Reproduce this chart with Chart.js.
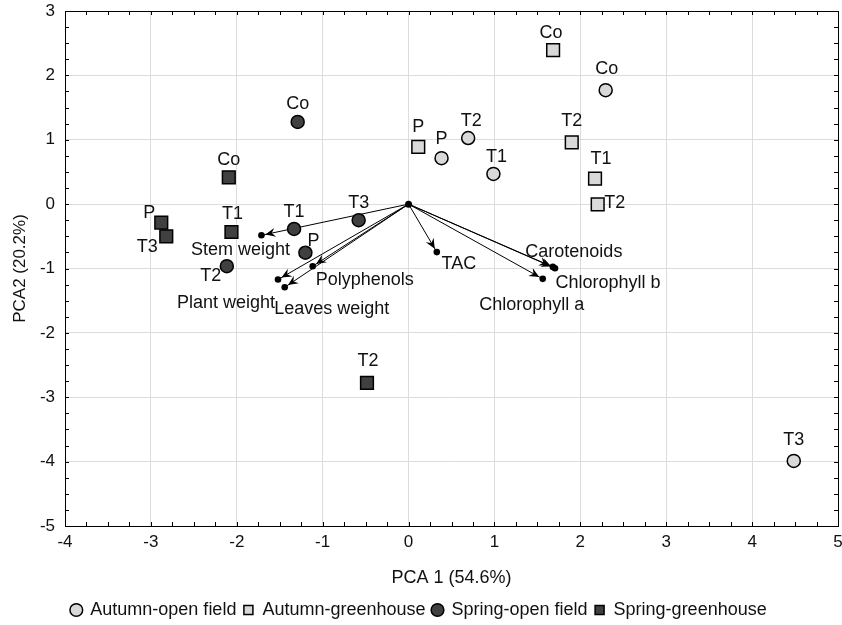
<!DOCTYPE html>
<html>
<head>
<meta charset="utf-8">
<script src="https://cdn.jsdelivr.net/npm/chart.js@4.4.0/dist/chart.umd.min.js"></script>
<style>
  html, body { margin: 0; padding: 0; background: #fff; }
</style>
</head>
<body>
<canvas id="pca" width="842" height="625"></canvas>
<script>
// scores, one set of arrays per group
const autumnOpenLabels = ['Co', 'P', 'T2', 'T1', 'T3'];
const autumnOpenX = [2.295, 0.384, 0.694, 0.988, 4.485];
const autumnOpenY = [1.770, 0.714, 1.027, 0.469, -3.989];

const autumnGreenLabels = ['Co', 'P', 'T2', 'T1', 'T2'];
const autumnGreenX = [1.683, 0.113, 1.900, 2.171, 2.202];
const autumnGreenY = [2.391, 0.891, 0.958, 0.395, -0.005];

const springOpenLabels = ['Co', 'T1', 'T3', 'P', 'T2'];
const springOpenX = [-1.291, -1.333, -0.581, -1.201, -2.116];
const springOpenY = [1.277, -0.386, -0.250, -0.755, -0.964];

const springGreenLabels = ['Co', 'T1', 'P', 'T3', 'T2'];
const springGreenX = [-2.093, -2.062, -2.879, -2.821, -0.484];
const springGreenY = [0.417, -0.433, -0.286, -0.500, -2.777];

// loadings (arrows from the origin)
const loadingNames = ['Stem weight', 'Plant weight', 'Leaves weight', 'Polyphenols', 'TAC', 'Carotenoids', 'Chlorophyll b', 'Chlorophyll a'];
const loadingX = [-1.713, -1.520, -1.442, -1.116, 0.329, 1.680, 1.705, 1.562];
const loadingY = [-0.484, -1.172, -1.292, -0.964, -0.745, -0.975, -0.995, -1.161];

const xTicks = [-4, -3, -2, -1, 0, 1, 2, 3, 4, 5];
const yTicks = [-5, -4, -3, -2, -1, 0, 1, 2, 3];

// label placement, pixels from the mark
const autumnOpenLabelPos = [[1, -21], [0, -19], [3, -17], [3, -17], [0, -21]];
const autumnGreenLabelPos = [[-2, -17], [0, -20], [0, -21], [6, -20], [17, -1]];
const springOpenLabelPos = [[0, -18], [0, -17], [0, -17], [8, -12], [-16, 10]];
const springGreenLabelPos = [[0, -17], [1, -18], [-12, -10], [-19, 11], [1, -22]];
const loadingLabelPos = [[-21, 15], [-52, 23], [47, 22], [52, 14], [22, 12], [21, -15], [53, 15], [-11, 26]];

const FONT = "'Liberation Sans', Arial, sans-serif";
const LIGHT = '#d9d9d9';
const DARK = '#404040';

const toPoints = (xs, ys) => xs.map((v, i) => ({ x: v, y: ys[i] }));

const groups = [
  { label: 'Autumn-open field', xs: autumnOpenX, ys: autumnOpenY, names: autumnOpenLabels, pos: autumnOpenLabelPos, style: 'circle', fill: LIGHT },
  { label: 'Autumn-greenhouse', xs: autumnGreenX, ys: autumnGreenY, names: autumnGreenLabels, pos: autumnGreenLabelPos, style: 'rect', fill: LIGHT },
  { label: 'Spring-open field', xs: springOpenX, ys: springOpenY, names: springOpenLabels, pos: springOpenLabelPos, style: 'circle', fill: DARK },
  { label: 'Spring-greenhouse', xs: springGreenX, ys: springGreenY, names: springGreenLabels, pos: springGreenLabelPos, style: 'rect', fill: DARK }
];

const arrowPlugin = {
  id: 'arrows',
  beforeDatasetsDraw(chart) {
    const { ctx, scales: { x, y } } = chart;
    const ox = x.getPixelForValue(0), oy = y.getPixelForValue(0);
    ctx.save();
    ctx.strokeStyle = '#000';
    ctx.fillStyle = '#000';
    ctx.lineWidth = 1;
    loadingNames.forEach((name, i) => {
      const ex = x.getPixelForValue(loadingX[i]);
      const ey = y.getPixelForValue(loadingY[i]);
      const ang = Math.atan2(ey - oy, ex - ox);
      const c = Math.cos(ang), s = Math.sin(ang);
      ctx.beginPath();
      ctx.moveTo(ox, oy);
      ctx.lineTo(ex, ey);
      ctx.stroke();
      // barbed arrow head just before the end dot
      const tx = ex - c * 4, ty = ey - s * 4;
      ctx.beginPath();
      ctx.moveTo(tx, ty);
      ctx.lineTo(tx - c * 10 - s * 4.5, ty - s * 10 + c * 4.5);
      ctx.lineTo(tx - c * 6.5, ty - s * 6.5);
      ctx.lineTo(tx - c * 10 + s * 4.5, ty - s * 10 - c * 4.5);
      ctx.closePath();
      ctx.fill();
      ctx.beginPath();
      ctx.arc(ex, ey, 3.3, 0, Math.PI * 2);
      ctx.fill();
    });
    ctx.beginPath();
    ctx.arc(ox, oy, 3.5, 0, Math.PI * 2);
    ctx.fill();
    ctx.restore();
  },
  afterDatasetsDraw(chart) {
    const { ctx, chartArea: a, scales: { x, y } } = chart;
    ctx.save();
    // frame and inner ticks
    ctx.strokeStyle = '#000';
    ctx.lineWidth = 1;
    ctx.strokeRect(Math.round(a.left) + 0.5, Math.round(a.top) + 0.5, Math.round(a.right - a.left), Math.round(a.bottom - a.top));
    ctx.beginPath();
    for (let v = x.min; v <= x.max + 1e-9; v += 0.25) {
      const px = Math.round(x.getPixelForValue(v)) + 0.5;
      ctx.moveTo(px, a.top); ctx.lineTo(px, a.top + 4);
      ctx.moveTo(px, a.bottom); ctx.lineTo(px, a.bottom - 4);
    }
    for (let v = y.min; v <= y.max + 1e-9; v += 0.25) {
      const py = Math.round(y.getPixelForValue(v)) + 0.5;
      ctx.moveTo(a.left, py); ctx.lineTo(a.left + 4, py);
      ctx.moveTo(a.right, py); ctx.lineTo(a.right - 4, py);
    }
    ctx.stroke();

    ctx.fillStyle = '#111';
    ctx.font = '18px ' + FONT;
    ctx.textAlign = 'center';
    ctx.textBaseline = 'middle';
    loadingNames.forEach((name, i) => {
      const ex = x.getPixelForValue(loadingX[i]);
      const ey = y.getPixelForValue(loadingY[i]);
      ctx.fillText(name, ex + loadingLabelPos[i][0], ey + loadingLabelPos[i][1]);
    });
    groups.forEach(g => {
      g.names.forEach((n, i) => {
        const px = x.getPixelForValue(g.xs[i]);
        const py = y.getPixelForValue(g.ys[i]);
        ctx.fillText(n, px + g.pos[i][0], py + g.pos[i][1]);
      });
    });
    ctx.restore();
  }
};

new Chart(document.getElementById('pca').getContext('2d'), {
  type: 'scatter',
  data: {
    datasets: groups.map(g => ({
      label: g.label,
      data: toPoints(g.xs, g.ys),
      pointStyle: g.style,
      pointRadius: g.style === 'rect' ? 9 : 6.5,
      backgroundColor: g.fill,
      borderColor: '#000',
      borderWidth: 1.5
    }))
  },
  options: {
    responsive: false,
    animation: false,
    devicePixelRatio: 1,
    layout: { autoPadding: false, padding: { top: 11, right: 4, left: 0, bottom: -4 } },
    plugins: {
      tooltip: { enabled: false },
      legend: {
        position: 'bottom',
        labels: {
          usePointStyle: true,
          boxWidth: 10,
          boxHeight: 9,
          padding: 7,
          color: '#111',
          font: { family: FONT, size: 18 }
        }
      }
    },
    scales: {
      x: {
        type: 'linear',
        min: -4,
        max: 5,
        afterBuildTicks: s => { s.ticks = xTicks.map(v => ({ value: v })); },
        afterFit: s => { s.height = 68; s.paddingLeft = 0; s.paddingRight = 0; },
        ticks: { color: '#111', padding: 6, font: { family: FONT, size: 17 } },
        grid: { color: '#dcdcdc', drawTicks: false },
        border: { display: false },
        title: { display: true, text: 'PCA 1 (54.6%)', color: '#111', font: { family: FONT, size: 18 }, padding: { top: 0, bottom: 5 } }
      },
      y: {
        type: 'linear',
        min: -5,
        max: 3,
        afterBuildTicks: s => { s.ticks = yTicks.map(v => ({ value: v })); },
        afterFit: s => { s.width = 65; s.paddingTop = 0; s.paddingBottom = 0; },
        ticks: { color: '#111', padding: 10, font: { family: FONT, size: 17 } },
        grid: { color: '#dcdcdc', drawTicks: false },
        border: { display: false },
        title: { display: true, text: 'PCA2 (20.2%)', color: '#111', font: { family: FONT, size: 17 }, padding: { top: 10, bottom: 0 } }
      }
    }
  },
  plugins: [arrowPlugin]
});
</script>
</body>
</html>
